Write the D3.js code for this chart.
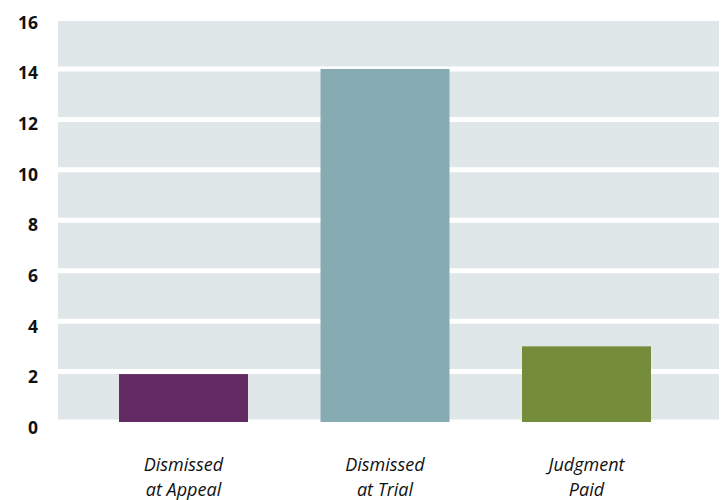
<!DOCTYPE html>
<html>
<head>
<meta charset="utf-8">
<script src="https://cdn.jsdelivr.net/npm/d3@7"></script>
<style>
  body { margin: 0; background: #fff; }
  svg { display: block; }
  .tick-label { font-family: "Open Sans", sans-serif; font-weight: 700; font-size: 17.5px; fill: #111; }
  .cat-label { font-family: "Open Sans", sans-serif; font-style: italic; font-size: 18px; fill: #111; }
</style>
</head>
<body>
<div id="chart"></div>
<script>
// data
const categories = [["Dismissed", "at Appeal"], ["Dismissed", "at Trial"], ["Judgment", "Paid"]];
const values = [1.9, 14, 3];
const colors = ["#632a63", "#87abb3", "#758c3a"];
const yTicks = [0, 2, 4, 6, 8, 10, 12, 14, 16];

const width = 722, height = 500;
const plotLeft = 58, plotRight = 719;

const svg = d3.select('#chart').append('svg')
  .attr('width', width)
  .attr('height', height);

const y = d3.scaleLinear().domain([0, 16]).range([422, 18.5]);
// tick labels sit a little below their gridlines, spreading slightly
const yLabel = d3.scaleLinear().domain([0, 16]).range([434, 28.5]);
const x = d3.scaleBand()
  .domain(d3.range(categories.length))
  .range([82.75, 687.25])
  .paddingInner(0.36)
  .paddingOuter(0.18);

// plot background
svg.append('rect')
  .attr('x', plotLeft)
  .attr('y', y(16))
  .attr('width', plotRight - plotLeft)
  .attr('height', y(0) - y(16))
  .attr('fill', '#e0e7e9');

// thick white gridlines
svg.append('g').selectAll('line')
  .data(yTicks)
  .join('line')
  .attr('x1', plotLeft)
  .attr('x2', plotRight)
  .attr('y1', d => y(d))
  .attr('y2', d => y(d))
  .attr('stroke', '#fff')
  .attr('stroke-width', 5);

// bars
svg.append('g').selectAll('rect')
  .data(values)
  .join('rect')
  .attr('x', (d, i) => x(i))
  .attr('width', x.bandwidth())
  .attr('y', d => y(d))
  .attr('height', d => y(0) - y(d))
  .attr('fill', (d, i) => colors[i]);

// y tick labels
svg.append('g').selectAll('text')
  .data(yTicks)
  .join('text')
  .attr('class', 'tick-label')
  .attr('x', 38)
  .attr('y', d => yLabel(d))
  .attr('text-anchor', 'end')
  .text(d => d);

// category labels (two lines)
const cat = svg.append('g').selectAll('text')
  .data(categories)
  .join('text')
  .attr('class', 'cat-label')
  .attr('text-anchor', 'middle')
  .attr('x', (d, i) => x(i) + x.bandwidth() / 2)
  .attr('y', 471);
cat.selectAll('tspan')
  .data(d => d)
  .join('tspan')
  .attr('x', function () { return this.parentNode.getAttribute('x'); })
  .attr('dy', (d, i) => i === 0 ? 0 : 24.5)
  .text(d => d);
</script>
</body>
</html>
